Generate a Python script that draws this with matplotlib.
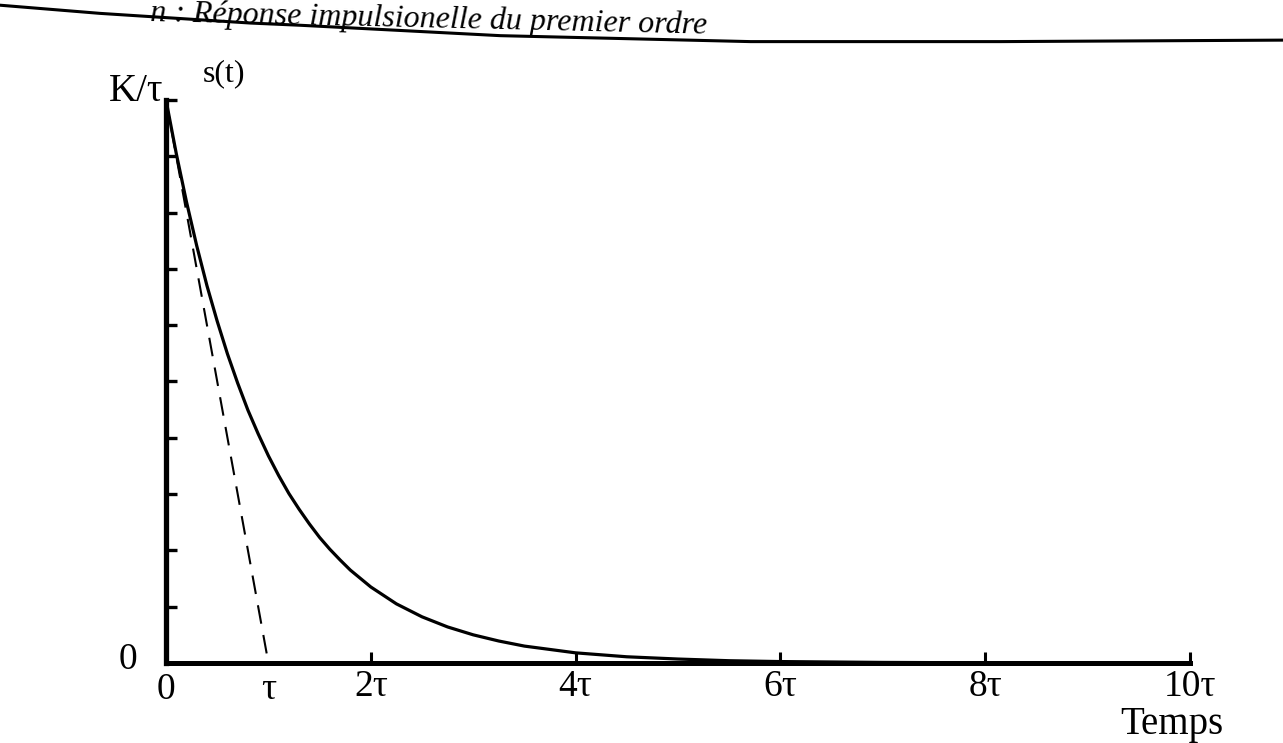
import numpy as np
import matplotlib
matplotlib.use("Agg")
from matplotlib import pyplot as plt
from matplotlib.lines import Line2D

# impulse response of a first-order system, time in units of tau, s in units of K/tau
t = [0, 0.1, 0.2, 0.3, 0.4, 0.5, 0.6, 0.7, 0.8, 0.9, 1.0, 1.1, 1.2, 1.3, 1.4,
     1.5, 1.6, 1.7, 1.8, 1.9, 2.0, 2.25, 2.5, 2.75, 3.0, 3.25, 3.5, 3.75, 4.0,
     4.5, 5.0, 5.5, 6.0, 7.0, 8.0, 9.0, 10.0]
s = [1.000, 0.905, 0.819, 0.741, 0.670, 0.607, 0.549, 0.497, 0.449, 0.407,
     0.368, 0.333, 0.301, 0.273, 0.247, 0.223, 0.202, 0.183, 0.165, 0.150,
     0.135, 0.105, 0.082, 0.064, 0.050, 0.039, 0.030, 0.024, 0.018,
     0.011, 0.007, 0.004, 0.0025, 0.001, 0.0003, 0.0001, 0.0]

# tangent at the origin, crossing zero at t = tau
tangent_t = [0, 1.0]
tangent_s = [1.0, 0]

xtick_pos = [2, 4, 6, 8, 10]
xtick_lab = ["2τ", "4τ", "6τ", "8τ", "10τ"]
ytick_pos = [0.1, 0.2, 0.3, 0.4, 0.5, 0.6, 0.7, 0.8, 0.9, 1.0]

title = "n : Réponse impulsionelle du premier ordre"

plt.rcParams['font.family'] = ['Liberation Serif', 'DejaVu Serif']

fig = plt.figure(figsize=(12.83, 7.43), dpi=100)
fig.patch.set_facecolor("white")
ax = fig.add_axes([0.1294, 0.1077, 0.7981, 0.7577])

ax.plot(t, s, color="black", lw=2.3, solid_capstyle="round",
        solid_joinstyle="round", clip_on=False)
ax.plot(tangent_t, tangent_s, color="black", lw=1.5, dashes=(9, 5.5), clip_on=False)

ax.set_xlim(0, 10)
ax.set_ylim(0, 1)

for side in ["top", "right"]:
    ax.spines[side].set_visible(False)
ax.spines["left"].set_linewidth(3.8)
ax.spines["bottom"].set_linewidth(3.6)
ax.spines["left"].set_capstyle("projecting")
ax.spines["bottom"].set_capstyle("projecting")

ax.set_xticks(xtick_pos)
ax.set_xticklabels(xtick_lab)
ax.set_xticks([0, 1], ["0", "τ"], minor=True)
ax.set_yticks(ytick_pos)
ax.set_yticklabels([])
ax.tick_params(axis="x", which="major", direction="in", length=8, width=2.2,
               labelsize=27, pad=5)
ax.tick_params(axis="x", which="minor", length=0, labelsize=27, pad=7)
ax.tick_params(axis="y", which="major", direction="in", length=8, width=2.4)

ax.annotate("0", (0, 0), xytext=(-21, 2), textcoords="offset points",
            ha="right", va="center", fontsize=27)
ax.annotate("K/τ", (0, 1), xytext=(-2, 6), textcoords="offset points",
            ha="right", va="center", fontsize=28)
ax.annotate("s(t)", (0, 1), xytext=(42, 19), textcoords="offset points",
            ha="center", va="center", fontsize=23)
ax.annotate("Temps", (10, 0), xytext=(24, -44), textcoords="offset points",
            ha="right", va="center", fontsize=28)

# running header of the page
header_x = [0.0, 0.078, 0.195, 0.234, 0.39, 0.585, 0.78, 1.0]
header_y = [0.993, 0.982, 0.969, 0.966, 0.952, 0.944, 0.944, 0.946]
fig.add_artist(Line2D(header_x, header_y, color="black", lw=2.2,
                      solid_joinstyle="round", transform=fig.transFigure))
fig.text(0.117, 0.9717, title, fontsize=23, style="italic", rotation=-1.3,
         rotation_mode="anchor", ha="left", va="baseline")

fig.savefig("out.png", dpi=100, facecolor="white")
